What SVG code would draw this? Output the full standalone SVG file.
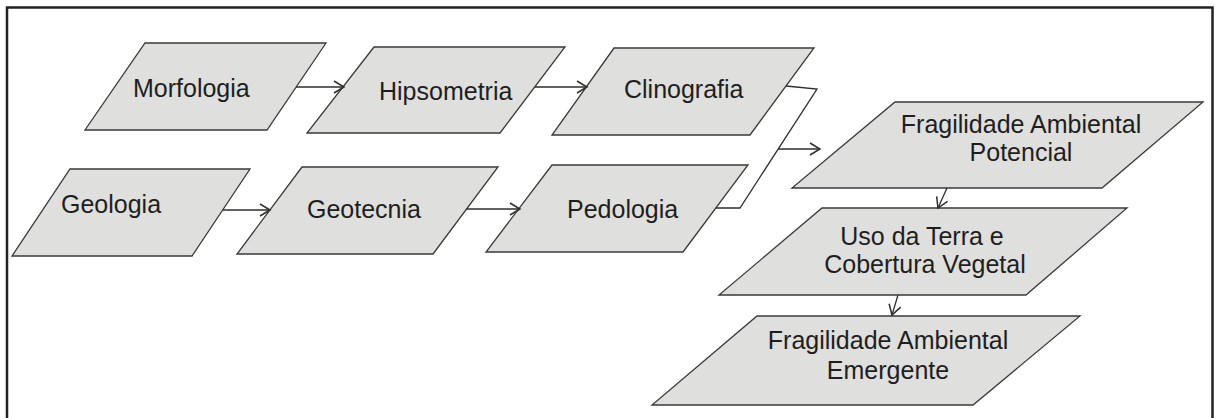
<svg xmlns="http://www.w3.org/2000/svg" width="1215" height="418" viewBox="0 0 1215 418">
  <style>
    .n { fill: #dfdfdd; stroke: #3a3a3a; stroke-width: 1.3; }
    .t { font-family: "Liberation Sans", Arial, sans-serif; font-size: 25px; fill: #1e1e1e; }
    .c { fill: none; stroke: #2e2e2e; stroke-width: 1.3; }
  </style>
  <defs>
    <marker id="ah" markerWidth="12" markerHeight="14" refX="10" refY="6" orient="auto" markerUnits="userSpaceOnUse" overflow="visible">
      <path d="M0,0 L10,6 L0,12" fill="none" stroke="#2e2e2e" stroke-width="1.5"/>
    </marker>
  </defs>
  <rect x="0" y="0" width="1215" height="418" fill="#ffffff"/>
  <rect x="7" y="7.5" width="1205.5" height="430" fill="none" stroke="#222" stroke-width="2.5"/>

  <g id="morfologia">
    <polygon class="n" points="145,43 326,43 267,130 85,130"/>
    <text class="t" x="133" y="97">Morfologia</text>
  </g>
  <g id="hipsometria">
    <polygon class="n" points="374,47 565,47 500,133 307,133"/>
    <text class="t" x="379" y="100">Hipsometria</text>
  </g>
  <g id="clinografia">
    <polygon class="n" points="614,48 814,48 750,135 552,135"/>
    <text class="t" x="624" y="98">Clinografia</text>
  </g>
  <g id="geologia">
    <polygon class="n" points="70,169 250,169 192,256 12,256"/>
    <text class="t" x="61" y="213">Geologia</text>
  </g>
  <g id="geotecnia">
    <polygon class="n" points="302,167 498,167 433,254 237,254"/>
    <text class="t" x="307" y="218">Geotecnia</text>
  </g>
  <g id="pedologia">
    <polygon class="n" points="552,165 748,165 683,252 486,252"/>
    <text class="t" x="567" y="218">Pedologia</text>
  </g>
  <g id="fragilidade-potencial">
    <polygon class="n" points="895,102 1203,102 1102,188 792,188"/>
    <text class="t" x="1021" y="133" text-anchor="middle">Fragilidade Ambiental</text>
    <text class="t" x="1021" y="161" text-anchor="middle">Potencial</text>
  </g>
  <g id="uso-terra">
    <polygon class="n" points="822,208 1127,208 1026,295 719,295"/>
    <text class="t" x="922" y="245" text-anchor="middle">Uso da Terra e</text>
    <text class="t" x="925" y="273" text-anchor="middle">Cobertura Vegetal</text>
  </g>
  <g id="fragilidade-emergente">
    <polygon class="n" points="757,316 1080,316 973,405 652,405"/>
    <text class="t" x="888" y="349" text-anchor="middle">Fragilidade Ambiental</text>
    <text class="t" x="888" y="379" text-anchor="middle">Emergente</text>
  </g>

  <g id="connectors">
    <line class="c" x1="296" y1="87" x2="344" y2="87" marker-end="url(#ah)"/>
    <line class="c" x1="535" y1="87" x2="587" y2="87" marker-end="url(#ah)"/>
    <line class="c" x1="223" y1="210" x2="270" y2="210" marker-end="url(#ah)"/>
    <line class="c" x1="466" y1="209" x2="520" y2="209" marker-end="url(#ah)"/>
    <polyline class="c" points="786,86 817,89 740,208 716,208"/>
    <line class="c" x1="778" y1="149" x2="820" y2="149" marker-end="url(#ah)"/>
    <line class="c" x1="947" y1="188" x2="938" y2="208" marker-end="url(#ah)"/>
    <line class="c" x1="898" y1="295" x2="892" y2="315" marker-end="url(#ah)"/>
  </g>
</svg>
